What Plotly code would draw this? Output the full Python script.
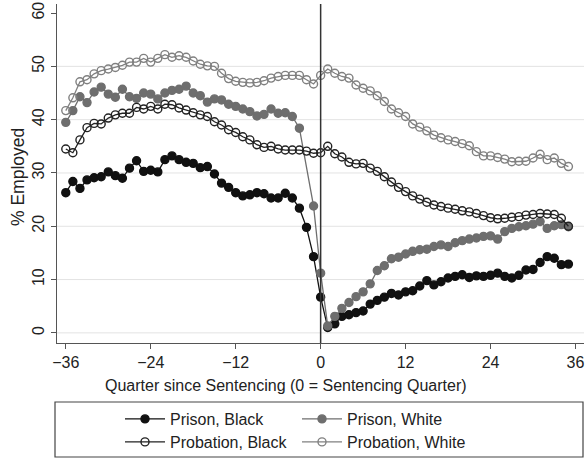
import plotly.graph_objects as go

quarters = list(range(-36, 36))

prison_black = [26.3, 28.4, 27.1, 28.7, 29.1, 29.3, 30.2, 29.5, 29.0, 30.9, 32.3, 30.3,
                30.5, 30.2, 32.5, 33.2, 32.5, 32.0, 31.8, 31.0, 31.2, 29.8, 28.1, 27.3,
                26.3, 25.7, 25.9, 26.3, 26.1, 25.3, 25.3, 26.2, 25.3, 23.4, 19.8, 14.3,
                6.7, 1.0, 1.7, 3.1, 3.4, 3.8, 4.1, 5.4, 6.1, 6.7, 7.4, 7.1,
                7.7, 7.9, 8.8, 9.8, 9.0, 9.6, 10.3, 10.6, 10.9, 10.4, 10.7, 10.6,
                10.8, 11.2, 10.6, 10.3, 10.8, 11.8, 11.9, 13.2, 14.3, 14.0, 12.8, 12.9]

prison_white = [39.5, 41.7, 44.3, 43.2, 45.2, 46.1, 44.8, 44.2, 45.7, 44.3, 44.0, 45.0,
                44.8, 43.9, 45.0, 45.5, 45.7, 46.3, 45.0, 44.5, 43.3, 43.9, 43.7, 42.9,
                42.5, 42.0, 41.5, 40.7, 41.0, 42.0, 41.2, 41.3, 40.6, 38.4, None, 23.8,
                11.2, 1.3, 3.1, 4.6, 5.7, 6.8, 7.7, 9.2, 11.7, 12.6, 13.9, 14.2,
                14.8, 15.3, 15.6, 15.7, 16.2, 16.5, 16.2, 16.9, 17.3, 17.6, 17.8, 18.1,
                18.2, 17.6, 19.0, 19.6, 19.9, 20.1, 20.4, 20.9, 19.6, 20.1, 20.3, 19.9]

probation_black = [34.5, 33.8, 36.2, 38.5, 39.3, 39.2, 40.3, 40.9, 41.2, 41.2, 42.3, 42.0,
                   42.5, 42.0, 42.9, 42.8, 42.2, 41.8, 41.3, 40.9, 40.6, 39.6, 39.0, 38.1,
                   37.6, 36.8, 36.2, 35.3, 34.8, 35.0, 34.5, 34.3, 34.3, 34.3, 34.1, 33.7,
                   33.8, 35.0, 33.6, 33.0, 32.0, 31.7, 31.8, 30.9, 30.3, 29.3, 28.3, 27.3,
                   26.5, 25.7, 25.1, 24.5, 24.0, 23.7, 23.4, 23.2, 22.9, 22.7, 22.4, 22.0,
                   21.6, 21.4, 21.5, 21.7, 21.8, 22.1, 22.2, 22.4, 22.3, 22.2, 21.5, 20.0]

probation_white = [41.7, 44.1, 47.1, 47.5, 48.6, 49.2, 49.5, 49.8, 50.2, 50.8, 50.8, 51.5,
                   50.8, 51.5, 52.2, 51.7, 52.0, 51.7, 51.0, 50.4, 50.1, 50.0, 48.7, 47.7,
                   47.2, 47.0, 46.9, 47.0, 47.3, 47.8, 48.1, 48.3, 48.3, 48.3, 47.5, 46.7,
                   48.3, 49.5, 48.7, 48.1, 47.8, 46.5, 45.9, 45.4, 44.5, 43.4, 42.0, 41.3,
                   40.6, 39.2, 38.6, 37.9, 37.1, 36.6, 36.2, 35.9, 35.5, 35.1, 34.0, 33.2,
                   33.2, 32.9, 32.6, 32.1, 32.2, 32.2, 32.8, 33.5, 32.5, 32.8, 31.8, 31.2]

x_ticks = [-36, -24, -12, 0, 12, 24, 36]
y_ticks = [0, 10, 20, 30, 40, 50, 60]
grid_vals = [0, 10, 20, 30, 40, 50]

FONT = "Liberation Sans, Arial, sans-serif"
W, H = 586, 459

series = [
    ("Prison, Black", prison_black, "#111111", "circle", "legend"),
    ("Prison, White", prison_white, "#6e6e6e", "circle", "legend"),
    ("Probation, Black", probation_black, "#222222", "circle-open", "legend2"),
    ("Probation, White", probation_white, "#808080", "circle-open", "legend2"),
]

fig = go.Figure()
for name, vals, col, sym, leg in series:
    fig.add_trace(go.Scatter(
        x=quarters, y=vals, name=name, mode="lines+markers",
        connectgaps=True, legend=leg,
        line=dict(color=col, width=1.3),
        marker=dict(symbol=sym, size=8, color=col,
                    line=dict(color=col, width=1.4)),
    ))

shapes = []
for g in grid_vals:
    shapes.append(dict(type="line", xref="paper", yref="y", x0=0, x1=1, y0=g, y1=g,
                       line=dict(color="#e3e3e3", width=1), layer="below"))
shapes.append(dict(type="line", xref="x", yref="paper", x0=0, x1=0, y0=0, y1=1,
                   line=dict(color="#333333", width=1.5)))
# legend frame (pixel positions converted to paper coordinates)
pl, pr, pt, pb = 57, 584, 4, 343
pw, ph = pr - pl, pb - pt
shapes.append(dict(type="rect", xref="paper", yref="paper",
                   x0=(55 - pl) / pw, x1=(583 - pl) / pw,
                   y0=(pb - 457) / ph, y1=(pb - 402) / ph,
                   line=dict(color="#444444", width=1.2)))

legend_common = dict(orientation="h", xref="container", yref="container",
                     xanchor="left", yanchor="top",
                     entrywidth=122, entrywidthmode="pixels",
                     font=dict(family=FONT, size=16, color="#222222"),
                     bgcolor="rgba(0,0,0,0)", itemwidth=40)

fig.update_layout(
    width=W, height=H,
    margin=dict(l=pl, r=W - pr, t=pt, b=H - pb, autoexpand=False),
    paper_bgcolor="white", plot_bgcolor="white",
    font=dict(family=FONT, size=16, color="#222222"),
    showlegend=True,
    legend=dict(x=120 / W, y=1 - 402 / H, **legend_common),
    legend2=dict(x=120 / W, y=1 - 425 / H, **legend_common),
    shapes=shapes,
    annotations=[
        dict(text="Quarter since Sentencing (0 = Sentencing Quarter)", xref="paper", yref="paper",
             x=(286 - pl) / pw, y=(pb - 385) / ph, xanchor="center", yanchor="middle",
             showarrow=False, font=dict(family=FONT, size=16, color="#222222")),
        dict(text="% Employed", xref="paper", yref="paper", textangle=-90,
             x=(18 - pl) / pw, y=(pb - 177) / ph, xanchor="center", yanchor="middle",
             showarrow=False, font=dict(family=FONT, size=17.5, color="#222222")),
    ],
)
fig.update_xaxes(range=[-37.24, 37.2], tickvals=x_ticks, ticks="outside", ticklen=5,
                 tickcolor="#555555", showgrid=False, zeroline=False, showline=True,
                 linecolor="#555555", linewidth=1.3, tickfont=dict(size=16),
                 automargin=False)
fig.update_yaxes(range=[-1.9, 61.7], tickvals=y_ticks, ticks="outside", ticklen=5,
                 tickcolor="#555555", showgrid=False, zeroline=False, showline=True,
                 linecolor="#555555", linewidth=1.3, tickangle=-90, tickfont=dict(size=16),
                 automargin=False)

fig.write_html("out.html", config={"displayModeBar": False},
               post_script="document.body.style.margin='0px';document.body.style.overflow='hidden';")
